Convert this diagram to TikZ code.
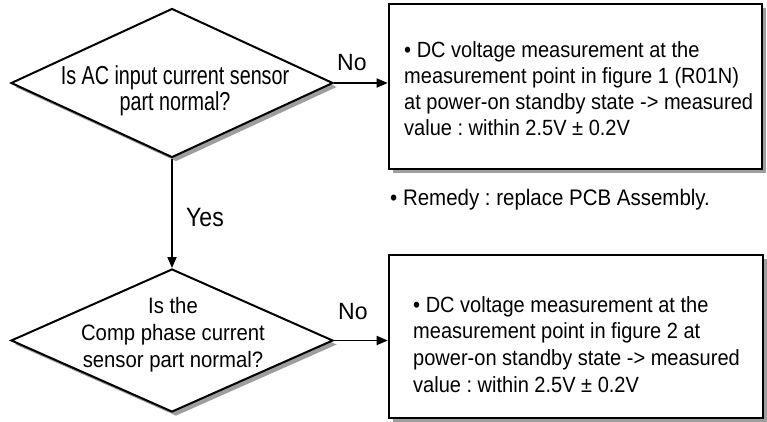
\documentclass[tikz,border=0pt]{standalone}
\usepackage{fontspec}
\setmainfont{Liberation Sans}
\newfontfamily\bxfont[FakeStretch=0.91]{Liberation Sans}
\newfontfamily\dafont[FakeStretch=0.76]{Liberation Sans}
\newfontfamily\ysfont[FakeStretch=0.87]{Liberation Sans}
\newfontfamily\nofont[FakeStretch=0.98]{Liberation Sans}
\usetikzlibrary{shapes.geometric,shadows,arrows.meta}
\frenchspacing
\tikzset{
  shd/.style={drop shadow={shadow xshift=4pt, shadow yshift=-4pt, fill=black!38, opacity=1}},
  dia/.style={diamond, draw, line width=2pt, fill=white, inner sep=0pt, minimum width=322pt, shd},
  msgbox/.style={rectangle, draw, line width=2.6pt, fill=white, inner sep=0pt, shd},
  txt/.style={inner sep=0pt, align=left, text=black},
  arr/.style={line width=1.7pt, -{Triangle[length=11pt,width=9pt]}},
}
\begin{document}
\frenchspacing
\begin{tikzpicture}[x=1pt,y=-1pt]
\useasboundingbox (0,0) rectangle (767,421);
% shapes
\node[dia, minimum height=149pt] (d1) at (172,83) {};
\node[dia, minimum height=143pt] (d2) at (172,340.5) {};
\node[msgbox, minimum width=373pt, minimum height=165pt] (b1) at (575.5,86.5) {};
\node[msgbox, minimum width=374pt, minimum height=163pt] (b2) at (576,336.5) {};
% texts
\node[txt, anchor=north, align=center, font=\dafont\fontsize{26}{26}\selectfont] (t1) at (175,65.4)
  {Is AC input current sensor\\part normal?};
\node[txt, anchor=north, align=center, font=\bxfont\fontsize{22.3}{27}\selectfont] (t2) at (173,297)
  {Is the\\Comp phase current\\sensor part normal?};
\node[txt, anchor=north west, font=\bxfont\fontsize{22}{26}\selectfont] (t3) at (404,41.5)
  {• DC voltage measurement at the\\measurement point in figure 1 (R01N)\\at power-on standby state -> measured\\value : within 2.5V ± 0.2V};
\node[txt, anchor=north west, font=\bxfont\fontsize{22}{26.7}\selectfont] (t4) at (413,296)
  {• DC voltage measurement at the\\measurement point in figure 2 at\\power-on standby state -> measured\\value : within 2.5V ± 0.2V};
\node[txt, anchor=base west, font=\bxfont\fontsize{22.5}{26}\selectfont] (rem) at (390,205)
  {• Remedy : replace PCB Assembly.};
\node[txt, anchor=base west, font=\nofont\fontsize{23.5}{26}\selectfont] (no1) at (337,70) {No};
\node[txt, anchor=base west, font=\nofont\fontsize{23.5}{26}\selectfont] (no2) at (338,319) {No};
\node[txt, anchor=base west, font=\ysfont\fontsize{26.5}{26}\selectfont] (yes) at (186,226) {Yes};
% connectors
\draw[arr] (d1.east) -- (d1.east -| b1.west);
\draw[arr] (d2.east) -- (d2.east -| b2.west);
\draw[arr] (d1.south) -- (d2.north);
\end{tikzpicture}
\end{document}
